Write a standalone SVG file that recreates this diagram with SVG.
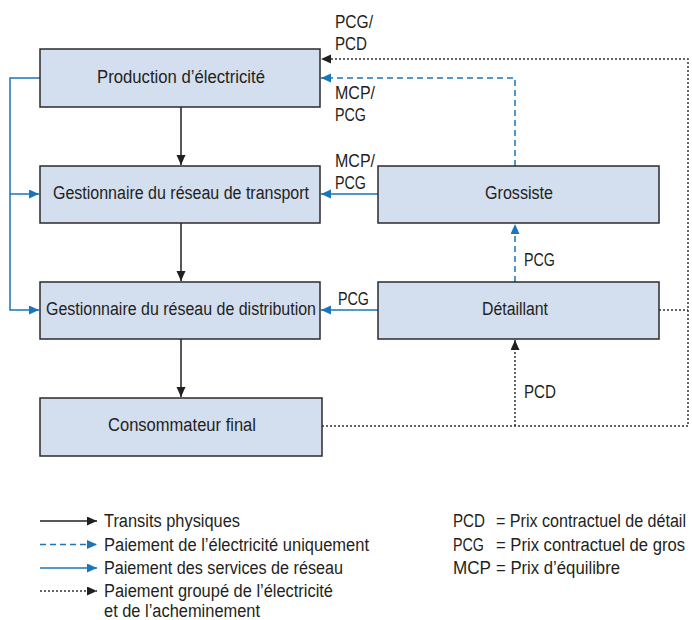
<svg xmlns="http://www.w3.org/2000/svg" width="692" height="620" viewBox="0 0 692 620">
  <style>
    text { font-family: "Liberation Sans Narrow", "Liberation Sans", Arial, sans-serif; font-size: 18px; fill: #231f20; }
    .box { fill: #d3deef; stroke: #2b2b2b; stroke-width: 1.5; }
    .phys { fill: none; stroke: #231f20; stroke-width: 1.5; }
    .net { fill: none; stroke: #1a75bb; stroke-width: 1.5; }
    .elec { fill: none; stroke: #1a75bb; stroke-width: 1.5; stroke-dasharray: 6 4; }
    .bundle { fill: none; stroke: #333; stroke-width: 1.5; stroke-dasharray: 2 2; }
    .mid { text-anchor: middle; }
  </style>
  <defs>
    <marker id="ahBlack" markerUnits="userSpaceOnUse" markerWidth="11" markerHeight="10" refX="10" refY="4.5" orient="auto">
      <path d="M0,0 L10,4.5 L0,9 z" fill="#231f20"/>
    </marker>
    <marker id="ahBlue" markerUnits="userSpaceOnUse" markerWidth="11" markerHeight="10" refX="10" refY="4.5" orient="auto">
      <path d="M0,0 L10,4.5 L0,9 z" fill="#1a75bb"/>
    </marker>
  </defs>

  <!-- connectors -->
  <g id="connectors">
    <!-- physical flows -->
    <path class="phys" d="M181,107 V165" marker-end="url(#ahBlack)"/>
    <path class="phys" d="M181,223 V281" marker-end="url(#ahBlack)"/>
    <path class="phys" d="M181,339 V397" marker-end="url(#ahBlack)"/>
    <!-- network service payments -->
    <path class="net" d="M40,78 H10 V310 H39" marker-end="url(#ahBlue)"/>
    <path class="net" d="M10,194 H39" marker-end="url(#ahBlue)"/>
    <path class="net" d="M378,194 H321" marker-end="url(#ahBlue)"/>
    <path class="net" d="M378,310 H321" marker-end="url(#ahBlue)"/>
    <!-- electricity-only payments -->
    <path class="elec" d="M515,166 V78 H321" marker-end="url(#ahBlue)"/>
    <path class="elec" d="M515,282 V224" marker-end="url(#ahBlue)"/>
    <!-- bundled payments -->
    <path class="bundle" d="M659,310 H688"/>
    <path class="bundle" d="M322,426 H688 V59 H321" marker-end="url(#ahBlack)"/>
    <path class="bundle" d="M515,426 V340" marker-end="url(#ahBlack)"/>
    <!-- connector labels -->
    <text x="335" y="28" textLength="38" lengthAdjust="spacingAndGlyphs">PCG/</text>
    <text x="335" y="50" textLength="32" lengthAdjust="spacingAndGlyphs">PCD</text>
    <text x="335" y="99" textLength="40" lengthAdjust="spacingAndGlyphs">MCP/</text>
    <text x="335" y="121" textLength="31" lengthAdjust="spacingAndGlyphs">PCG</text>
    <text x="335" y="167" textLength="40" lengthAdjust="spacingAndGlyphs">MCP/</text>
    <text x="335" y="189" textLength="31" lengthAdjust="spacingAndGlyphs">PCG</text>
    <text x="338" y="305" textLength="31" lengthAdjust="spacingAndGlyphs">PCG</text>
    <text x="524" y="266" textLength="31" lengthAdjust="spacingAndGlyphs">PCG</text>
    <text x="524" y="398" textLength="32" lengthAdjust="spacingAndGlyphs">PCD</text>
  </g>

  <!-- nodes -->
  <g id="production">
    <rect class="box" x="40" y="49" width="280" height="58"/>
    <text x="181" y="83" class="mid" textLength="168" lengthAdjust="spacingAndGlyphs">Production d’électricité</text>
  </g>
  <g id="transport">
    <rect class="box" x="40" y="166" width="280" height="57"/>
    <text x="181" y="199" class="mid" textLength="256" lengthAdjust="spacingAndGlyphs">Gestionnaire du réseau de transport</text>
  </g>
  <g id="distribution">
    <rect class="box" x="40" y="282" width="280" height="57"/>
    <text x="181" y="315" class="mid" textLength="270" lengthAdjust="spacingAndGlyphs">Gestionnaire du réseau de distribution</text>
  </g>
  <g id="consommateur">
    <rect class="box" x="40" y="398" width="282" height="58"/>
    <text x="182" y="431" class="mid" textLength="148" lengthAdjust="spacingAndGlyphs">Consommateur final</text>
  </g>
  <g id="grossiste">
    <rect class="box" x="378" y="166" width="281" height="57"/>
    <text x="519" y="199" class="mid" textLength="68" lengthAdjust="spacingAndGlyphs">Grossiste</text>
  </g>
  <g id="detaillant">
    <rect class="box" x="378" y="282" width="281" height="57"/>
    <text x="515" y="315" class="mid" textLength="66" lengthAdjust="spacingAndGlyphs">Détaillant</text>
  </g>

  <!-- legend -->
  <g id="legend">
    <path class="phys" d="M40,521 H97" marker-end="url(#ahBlack)"/>
    <text x="104" y="527" textLength="136" lengthAdjust="spacingAndGlyphs">Transits physiques</text>
    <path class="elec" d="M40,544.5 H97" marker-end="url(#ahBlue)"/>
    <text x="104" y="551" textLength="265" lengthAdjust="spacingAndGlyphs">Paiement de l’électricité uniquement</text>
    <path class="net" d="M40,568 H97" marker-end="url(#ahBlue)"/>
    <text x="104" y="574" textLength="239" lengthAdjust="spacingAndGlyphs">Paiement des services de réseau</text>
    <path class="bundle" d="M40,591 H97" marker-end="url(#ahBlack)"/>
    <text x="104" y="597" textLength="229" lengthAdjust="spacingAndGlyphs">Paiement groupé de l’électricité</text>
    <text x="104" y="617" textLength="156" lengthAdjust="spacingAndGlyphs">et de l’acheminement</text>

    <text x="453" y="527" textLength="32" lengthAdjust="spacingAndGlyphs">PCD</text>
    <text x="496" y="527" textLength="190" lengthAdjust="spacingAndGlyphs">= Prix contractuel de détail</text>
    <text x="453" y="551" textLength="31" lengthAdjust="spacingAndGlyphs">PCG</text>
    <text x="496" y="551" textLength="189" lengthAdjust="spacingAndGlyphs">= Prix contractuel de gros</text>
    <text x="453" y="574" textLength="38" lengthAdjust="spacingAndGlyphs">MCP</text>
    <text x="496" y="574" textLength="124" lengthAdjust="spacingAndGlyphs">= Prix d’équilibre</text>
  </g>
</svg>
